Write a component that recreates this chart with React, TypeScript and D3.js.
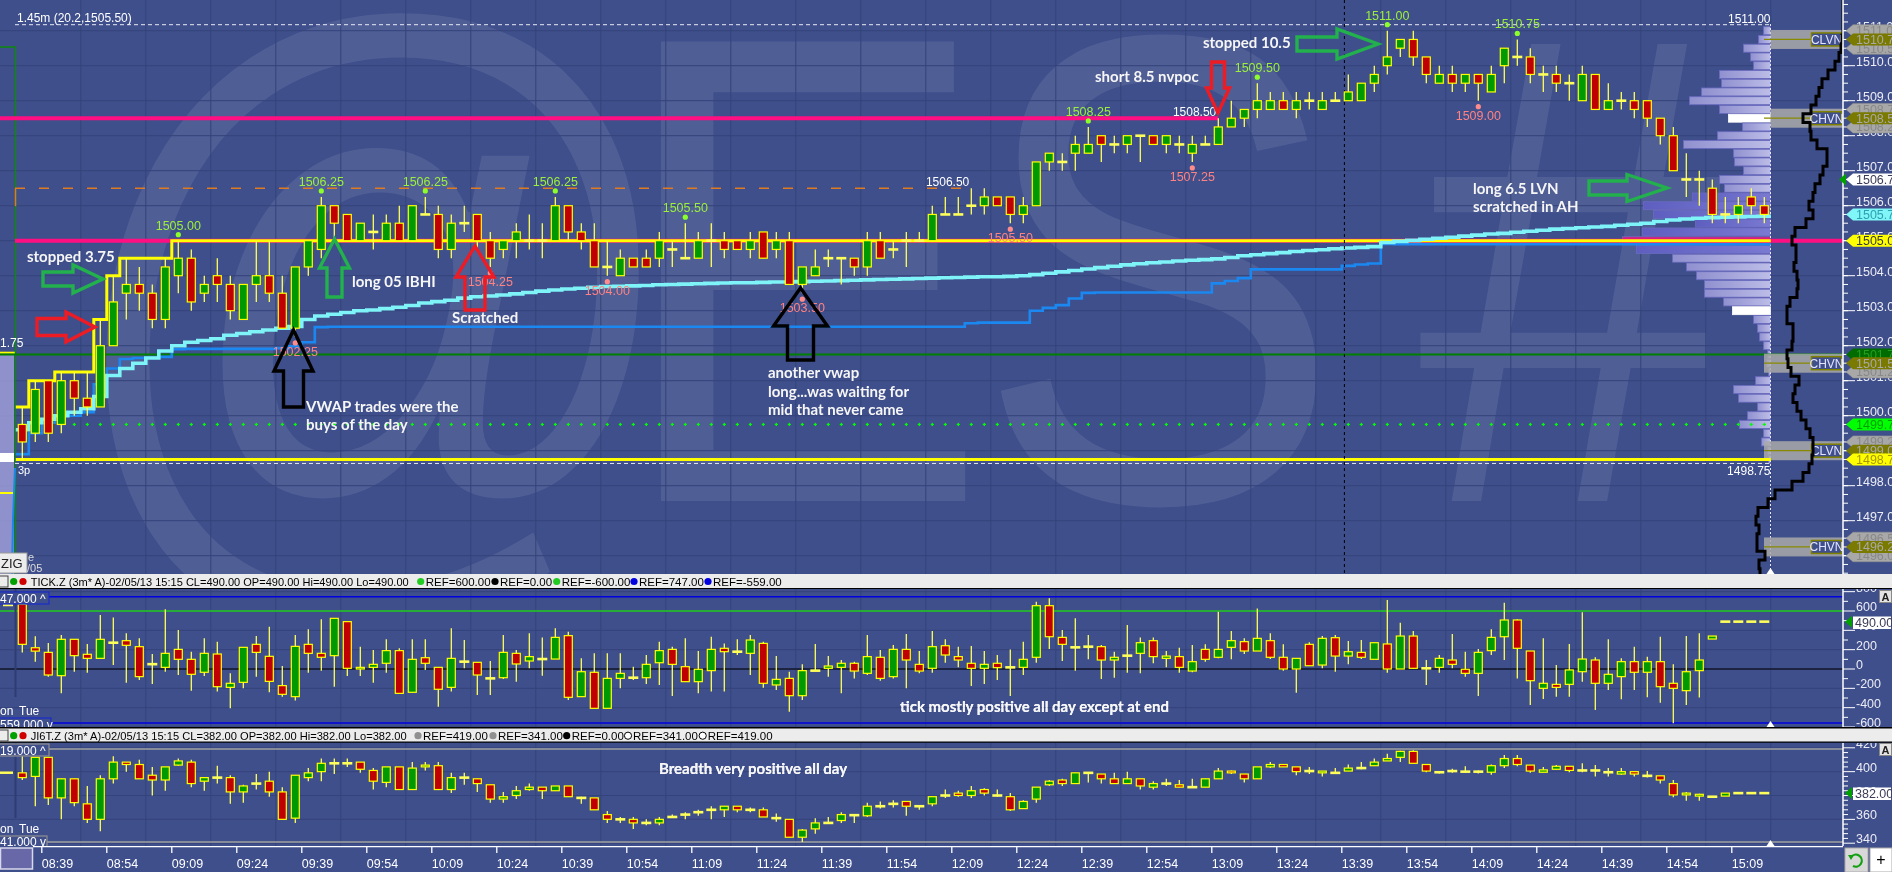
import * as React from 'react';
import * as d3 from 'd3';

type OHLC = [number, number, number, number];

// ---------- data ----------
// ES 3 minute bars [open, high, low, close]
const esCandles: OHLC[] = [
  [1499.75, 1500.25, 1498.75, 1499.25], [1499.5, 1501.0, 1499.25, 1500.75], [1501.0, 1501.0, 1499.25, 1499.5],
  [1499.75, 1501.25, 1499.5, 1501.0], [1501.0, 1501.25, 1500.0, 1500.5], [1500.5, 1501.25, 1500.0, 1500.25],
  [1500.25, 1502.75, 1500.25, 1502.0], [1502.0, 1504.0, 1502.0, 1503.25], [1503.5, 1504.5, 1502.75, 1503.75],
  [1503.75, 1504.25, 1503.0, 1503.5], [1503.5, 1503.75, 1502.5, 1502.75], [1502.75, 1504.5, 1502.5, 1504.25],
  [1504.0, 1505.0, 1503.5, 1504.5], [1504.5, 1504.75, 1503.0, 1503.25], [1503.5, 1504.0, 1503.25, 1503.75],
  [1504.0, 1504.5, 1503.25, 1503.75], [1503.75, 1504.0, 1502.75, 1503.0], [1502.75, 1503.75, 1502.75, 1503.75],
  [1503.75, 1505.0, 1503.25, 1504.0], [1504.0, 1505.0, 1503.25, 1503.5], [1503.5, 1504.0, 1502.5, 1502.5],
  [1502.5, 1504.25, 1502.25, 1504.25], [1504.25, 1505.0, 1504.0, 1505.0], [1504.75, 1506.25, 1504.5, 1506.0],
  [1506.0, 1506.0, 1505.0, 1505.5], [1505.75, 1505.75, 1505.0, 1505.0], [1505.0, 1505.5, 1505.0, 1505.5],
  [1505.25, 1505.75, 1504.75, 1505.25], [1505.0, 1505.75, 1505.0, 1505.5], [1505.5, 1506.0, 1505.0, 1505.0],
  [1505.0, 1506.0, 1505.0, 1506.0], [1505.75, 1506.25, 1505.75, 1505.75], [1505.75, 1506.0, 1504.5, 1504.75],
  [1504.75, 1505.75, 1504.5, 1505.5], [1505.5, 1506.0, 1505.25, 1505.5], [1505.75, 1505.75, 1504.75, 1505.0],
  [1505.0, 1505.25, 1504.25, 1504.5], [1504.75, 1505.0, 1504.5, 1505.0], [1505.0, 1505.5, 1504.5, 1505.25],
  [1505.0, 1505.75, 1504.75, 1505.0], [1505.0, 1505.5, 1504.5, 1505.0], [1505.0, 1506.25, 1505.0, 1506.0],
  [1506.0, 1506.0, 1505.0, 1505.25], [1505.25, 1505.5, 1504.75, 1505.0], [1505.0, 1505.5, 1504.25, 1504.25],
  [1504.25, 1505.0, 1504.0, 1504.25], [1504.0, 1504.75, 1504.0, 1504.5], [1504.5, 1504.5, 1504.25, 1504.25],
  [1504.5, 1504.75, 1504.25, 1504.25], [1504.5, 1505.25, 1504.25, 1505.0], [1504.75, 1505.0, 1504.25, 1504.75],
  [1504.5, 1505.5, 1504.5, 1504.5], [1504.5, 1505.25, 1504.5, 1505.0], [1505.0, 1505.5, 1504.25, 1505.0],
  [1505.0, 1505.25, 1504.5, 1504.75], [1505.0, 1505.0, 1504.75, 1504.75], [1504.75, 1505.25, 1504.5, 1505.0],
  [1505.25, 1505.25, 1504.5, 1504.5], [1504.75, 1505.25, 1504.5, 1505.0], [1505.0, 1505.25, 1503.75, 1503.75],
  [1503.75, 1504.25, 1503.5, 1504.25], [1504.0, 1504.75, 1504.0, 1504.25], [1504.5, 1504.75, 1504.25, 1504.5],
  [1504.5, 1504.5, 1503.75, 1504.5], [1504.5, 1504.5, 1504.0, 1504.25], [1504.25, 1505.25, 1504.0, 1505.0],
  [1505.0, 1505.25, 1504.5, 1504.5], [1504.75, 1505.0, 1504.5, 1504.75], [1505.0, 1505.25, 1504.25, 1505.0],
  [1505.0, 1505.25, 1505.0, 1505.0], [1505.0, 1506.0, 1505.0, 1505.75], [1505.75, 1506.25, 1505.75, 1505.75],
  [1505.75, 1506.25, 1505.75, 1505.75], [1506.0, 1506.5, 1505.75, 1506.0], [1506.0, 1506.5, 1505.75, 1506.25],
  [1506.25, 1506.25, 1506.0, 1506.0], [1506.25, 1506.25, 1505.5, 1505.75], [1505.75, 1506.25, 1505.5, 1506.0],
  [1506.0, 1507.25, 1506.0, 1507.25], [1507.25, 1507.5, 1507.0, 1507.5], [1507.25, 1507.5, 1507.0, 1507.25],
  [1507.5, 1508.0, 1507.0, 1507.75], [1507.5, 1508.25, 1507.5, 1507.75], [1508.0, 1508.0, 1507.25, 1507.75],
  [1507.75, 1508.0, 1507.5, 1507.75], [1507.75, 1508.0, 1507.5, 1508.0], [1508.0, 1508.0, 1507.25, 1508.0],
  [1508.0, 1508.0, 1507.75, 1507.75], [1507.75, 1508.0, 1507.5, 1508.0], [1507.75, 1508.0, 1507.5, 1507.75],
  [1507.5, 1508.0, 1507.25, 1507.75], [1507.75, 1508.0, 1507.75, 1507.75], [1507.75, 1508.5, 1507.75, 1508.25],
  [1508.25, 1509.0, 1508.25, 1508.5], [1508.5, 1508.75, 1508.25, 1508.75], [1508.75, 1509.5, 1508.5, 1509.0],
  [1508.75, 1509.25, 1508.75, 1509.0], [1509.0, 1509.25, 1508.75, 1508.75], [1508.75, 1509.25, 1508.5, 1509.0],
  [1509.0, 1509.25, 1508.75, 1509.0], [1508.75, 1509.25, 1508.75, 1509.0], [1509.0, 1509.25, 1509.0, 1509.0],
  [1509.0, 1509.75, 1509.0, 1509.25], [1509.0, 1509.5, 1509.0, 1509.5], [1509.5, 1510.0, 1509.25, 1509.75],
  [1510.0, 1511.0, 1509.75, 1510.25], [1510.5, 1510.75, 1510.25, 1510.75], [1510.75, 1511.0, 1510.0, 1510.25],
  [1510.25, 1510.25, 1509.5, 1509.75], [1509.5, 1510.0, 1509.5, 1509.75], [1509.75, 1510.0, 1509.25, 1509.5],
  [1509.5, 1509.75, 1509.25, 1509.75], [1509.75, 1509.75, 1509.0, 1509.5], [1509.25, 1510.0, 1509.25, 1509.75],
  [1510.0, 1510.5, 1509.5, 1510.5], [1510.25, 1510.75, 1510.0, 1510.25], [1510.25, 1510.5, 1509.5, 1509.75],
  [1509.75, 1510.0, 1509.25, 1509.75], [1509.75, 1510.0, 1509.25, 1509.5], [1509.5, 1509.75, 1509.0, 1509.5],
  [1509.0, 1510.0, 1509.0, 1509.75], [1509.75, 1509.75, 1508.75, 1508.75], [1508.75, 1509.5, 1508.75, 1509.0],
  [1509.0, 1509.25, 1508.75, 1509.0], [1509.0, 1509.25, 1508.5, 1508.75], [1509.0, 1509.0, 1508.25, 1508.5],
  [1508.5, 1508.5, 1507.75, 1508.0], [1508.0, 1508.25, 1507.0, 1507.0], [1506.75, 1507.5, 1506.25, 1506.75],
  [1506.75, 1507.0, 1506.0, 1506.75], [1506.5, 1506.75, 1505.5, 1505.75], [1505.75, 1506.25, 1505.5, 1505.75],
  [1505.75, 1506.25, 1505.5, 1506.0], [1506.25, 1506.5, 1505.75, 1506.0], [1506.0, 1506.25, 1505.5, 1505.75],
];

// session VWAP (cyan) and lower band (blue), one value per bar
const vwap: number[] = [
  1499.6, 1499.8, 1499.9, 1500.0, 1500.1, 1500.2, 1500.55, 1501.15, 1501.35, 1501.5,
  1501.65, 1501.85, 1502.0, 1502.1, 1502.15, 1502.2, 1502.3, 1502.35, 1502.4, 1502.45,
  1502.5, 1502.55, 1502.75, 1502.85, 1502.9, 1502.95, 1503.0, 1503.02, 1503.06, 1503.1,
  1503.15, 1503.22, 1503.26, 1503.3, 1503.36, 1503.4, 1503.42, 1503.45, 1503.48, 1503.52,
  1503.56, 1503.59, 1503.62, 1503.64, 1503.67, 1503.69, 1503.7, 1503.71, 1503.72, 1503.74,
  1503.75, 1503.76, 1503.77, 1503.78, 1503.79, 1503.8, 1503.8, 1503.81, 1503.82, 1503.82,
  1503.83, 1503.84, 1503.85, 1503.86, 1503.87, 1503.88, 1503.89, 1503.9, 1503.91, 1503.92,
  1503.93, 1503.94, 1503.95, 1503.96, 1503.97, 1503.97, 1503.98, 1504.0, 1504.03, 1504.07,
  1504.11, 1504.15, 1504.19, 1504.23, 1504.27, 1504.31, 1504.34, 1504.37, 1504.39, 1504.42,
  1504.44, 1504.46, 1504.48, 1504.52, 1504.57, 1504.6, 1504.63, 1504.66, 1504.69, 1504.72,
  1504.74, 1504.77, 1504.79, 1504.81, 1504.83, 1504.95, 1504.98, 1505.01, 1505.04, 1505.07,
  1505.1, 1505.13, 1505.16, 1505.19, 1505.21, 1505.24, 1505.27, 1505.3, 1505.33, 1505.35,
  1505.37, 1505.39, 1505.41, 1505.44, 1505.47, 1505.5, 1505.55, 1505.59, 1505.62, 1505.64,
  1505.66, 1505.67, 1505.68, 1505.69, 1505.7,
];
const vwapLow: number[] = [
  1498.9, 1499.5, 1499.8, 1500.0, 1500.0, 1500.1, 1500.9, 1501.35, 1501.62, 1501.65,
  1501.66, 1501.68, 1501.9, 1501.91, 1501.91, 1501.91, 1501.91, 1501.91, 1501.91, 1501.91,
  1501.93, 1501.98, 1502.1, 1502.53, 1502.54, 1502.54, 1502.54, 1502.54, 1502.54, 1502.54,
  1502.54, 1502.54, 1502.54, 1502.54, 1502.54, 1502.54, 1502.54, 1502.54, 1502.54, 1502.54,
  1502.54, 1502.54, 1502.54, 1502.54, 1502.54, 1502.54, 1502.54, 1502.54, 1502.54, 1502.54,
  1502.54, 1502.54, 1502.54, 1502.54, 1502.54, 1502.54, 1502.54, 1502.54, 1502.54, 1502.54,
  1502.54, 1502.54, 1502.54, 1502.54, 1502.54, 1502.54, 1502.54, 1502.54, 1502.54, 1502.54,
  1502.54, 1502.54, 1502.54, 1502.64, 1502.66, 1502.66, 1502.66, 1502.66, 1503.0, 1503.08,
  1503.16, 1503.35, 1503.51, 1503.52, 1503.52, 1503.52, 1503.52, 1503.52, 1503.52, 1503.52,
  1503.52, 1503.52, 1503.78, 1503.85, 1503.93, 1504.18, 1504.18, 1504.18, 1504.18, 1504.18,
  1504.18, 1504.18, 1504.28, 1504.32, 1504.35, 1504.91, 1504.9, 1504.9, 1504.9, 1504.9,
  1504.9, 1504.9, 1504.9, 1504.9, 1504.9, 1504.9, 1504.9, 1504.9, 1504.9, 1504.9,
  1504.9, 1504.9, 1504.9, 1504.9, 1504.9, 1504.9, 1504.9, 1504.9, 1504.9, 1504.9,
  1504.9, 1504.9, 1504.9, 1504.9, 1504.9,
];

// NYSE TICK, 3 minute bars
const tickCandles: OHLC[] = [
  [670, 690, 170, 255], [220, 340, 75, 185], [172, 270, -80, -62], [-69, 352, -252, 307], [307, 307, -28, 138],
  [152, 259, -38, 110], [110, 558, 110, 307], [272, 534, 41, 272], [293, 369, -141, 245], [231, 317, -114, -79],
  [50, 155, -155, 50], [17, 617, -28, 162], [203, 403, -62, 100], [100, 179, -224, -55], [-34, 317, -72, 162],
  [155, 283, -234, -183], [-190, -45, -407, -148], [-138, 224, -200, 224], [255, 341, -79, 172], [131, 438, -241, -128],
  [-172, 31, -286, -262], [-286, 352, -327, 234], [255, 410, -38, 162], [162, 514, -17, 121], [138, 524, -183, 524],
  [490, 490, -72, 7], [0, 231, -72, 17], [17, 196, -141, 48], [59, 307, -38, 190], [190, 214, -252, -252],
  [-241, 307, -241, 100], [117, 307, -10, 59], [17, 17, -390, -210], [-190, 421, -234, 110], [76, 300, 7, 76],
  [69, 69, -269, -62], [-97, 83, -269, -97], [-90, 352, -103, 172], [162, 196, -131, 52], [83, 369, 7, 128],
  [103, 327, -69, 103], [103, 421, 103, 327], [345, 386, -321, -293], [-286, 110, -286, -28], [-34, 162, -407, -407],
  [-407, 162, -407, -97], [-97, 162, -200, -45], [-90, 24, -114, -90], [-90, 145, -155, 48], [65, 283, -165, 190],
  [203, 231, -279, 48], [24, 317, -131, -131], [-131, 186, -252, -3], [-17, 334, -234, 203], [214, 265, -234, 179],
  [179, 307, 145, 179], [162, 352, -62, 300], [265, 283, -193, -148], [-165, 134, -217, -107], [-97, -28, -441, -276],
  [-276, 48, -321, -17], [-17, 259, -17, -17], [7, 134, -79, 31], [17, 93, -252, 59], [59, 76, -97, -21],
  [-45, 352, -62, 128], [121, 196, -121, -97], [-79, 248, -97, 203], [203, 362, -200, 93], [48, 186, -45, -21],
  [7, 393, -38, 231], [241, 307, 65, 145], [128, 231, 17, 93], [59, 238, -176, 7], [7, 186, -155, 48],
  [59, 145, -114, 14], [17, 203, -279, 17], [17, 283, -62, 100], [121, 696, 65, 655], [655, 731, 207, 334],
  [327, 403, 83, 255], [224, 524, -17, 224], [231, 352, 100, 231], [231, 248, -103, 93], [93, 179, -90, 121],
  [138, 455, -38, 138], [162, 327, -45, 272], [293, 327, 59, 128], [110, 186, 17, 134], [128, 221, -38, 17],
  [-21, 248, -34, 76], [203, 255, 76, 100], [121, 593, 110, 203], [224, 393, 100, 293], [283, 317, 155, 186],
  [186, 627, 186, 317], [293, 369, 103, 121], [121, 255, -17, 0], [0, 110, -245, 110], [255, 276, 34, 34],
  [41, 341, 7, 317], [324, 352, -28, 134], [134, 290, 48, 179], [172, 300, 103, 121], [100, 272, 100, 272],
  [259, 713, -38, 0], [0, 479, 0, 341], [341, 393, 0, 7], [7, 93, -165, 7], [17, 145, -38, 110],
  [93, 362, 7, 48], [-3, 179, -79, -45], [-45, 207, -279, 172], [190, 410, 145, 327], [334, 686, 93, 507],
  [507, 514, -97, 214], [186, 186, -372, -121], [-200, 317, -310, -148], [-159, 41, -286, -190], [-159, 259, -286, -10],
  [-28, 586, -131, 103], [93, 121, -424, -148], [-148, 307, -217, -55], [-79, 110, -314, 76], [76, 231, -217, -34],
  [-34, 128, -293, 76], [76, 334, -348, -183], [-148, 48, -562, -200], [-224, 341, -372, -28], [-17, 369, -296, 93],
  [310, 341, 310, 341], [490, 490, 490, 490], [490, 490, 490, 490], [490, 490, 490, 490], [490, 490, 490, 490],
];

// NYSE breadth (JI6T), 3 minute bars
const breadthCandles: OHLC[] = [
  [399, 413, 393, 395], [396, 412, 371, 412], [412, 412, 372, 378], [378, 394, 360, 394], [394, 394, 371, 374],
  [373, 388, 357, 360], [360, 397, 350, 394], [394, 413, 390, 408], [408, 408, 400, 406], [406, 410, 394, 394],
  [397, 404, 380, 393], [393, 404, 384, 404], [405.5, 411, 405, 409], [408, 410, 387, 390], [392, 395, 384, 395],
  [395, 405, 390, 395], [395, 397, 373, 383], [383, 389, 374, 388], [390, 398, 385, 390], [392, 400, 379, 383],
  [383, 387, 360, 360], [361, 397, 357, 397], [395, 403, 392, 399], [400, 411, 392, 407], [407, 411, 398, 407],
  [407, 411, 404, 407], [408, 408, 399, 402], [401, 403, 385, 392], [391, 404, 387, 404], [404, 404, 385, 385],
  [385, 408, 385, 403], [404, 408, 401, 405.5], [405, 408, 385, 385], [385, 399, 382, 395], [395, 399, 389, 395],
  [394, 394, 383, 390], [389, 389, 374, 377], [377, 383, 374, 379], [380, 388, 377, 384], [385, 390, 384, 387],
  [387, 387, 377, 384], [384, 388, 384, 388], [388, 388, 379, 379], [378, 379, 373, 378], [378, 378, 368, 368],
  [364, 367, 357, 360], [360, 362, 357, 360], [360, 362, 352, 357], [357, 360, 355, 357], [357, 362, 355, 360],
  [362, 364, 362, 362], [364, 366, 360, 364], [366, 368, 363, 366], [368, 371, 360, 368], [368, 371, 362, 371],
  [371, 371, 366, 368], [368, 370, 366, 368], [368, 370, 362, 362], [361, 365, 358, 361], [360, 360, 345, 345],
  [345, 352, 341, 351], [352, 361, 348, 357], [357, 362, 356, 357], [359, 366, 357, 364], [364, 364, 357, 363],
  [363, 374, 362, 371], [371, 375, 369, 371], [373, 376, 370, 373], [375, 375, 363, 371], [371, 372, 368, 371],
  [373, 379, 371, 379], [380, 385, 378, 380], [382, 384, 379, 380], [380, 388, 378, 384], [385, 386, 380, 382],
  [380, 385, 379, 380], [379, 382, 367, 368], [369, 376, 369, 375], [377, 387, 374, 387], [389, 393, 388, 392],
  [393, 394, 388, 390], [390, 399, 390, 399], [399, 399, 391, 399], [398, 398, 390, 394], [394, 399, 390, 390],
  [390, 400, 390, 394], [394, 394, 385, 388], [387, 392, 385, 390], [390, 394, 388, 390], [389, 393, 387, 387],
  [387, 394, 387, 387], [387, 394, 387, 394], [394, 403, 394, 400.5], [400.5, 401, 398, 399], [398, 398, 391, 394],
  [394, 404, 394, 404], [404, 408, 403, 406], [406, 406, 404, 404], [404, 404, 397, 400], [400.5, 404, 398, 400.5],
  [399, 400.5, 396, 400.5], [399, 403, 398, 399], [400.5, 406, 400.5, 403], [403, 408, 402, 403], [405, 411, 405, 408],
  [409, 415, 409, 411], [412, 417.5, 408, 417], [417, 418, 407, 407], [406, 406, 399.5, 400.5], [399.5, 400.5, 398.5, 399.5],
  [400.5, 402.5, 399, 400.5], [400, 404.5, 399, 400], [400, 401, 398.5, 400], [399.5, 406, 397.5, 405], [405, 414, 403, 411],
  [411, 414, 404.5, 406], [405.5, 405.5, 399, 400.5], [399.5, 404, 399.5, 401.5], [402, 405.5, 401.5, 404.5], [404.5, 404.5, 399.5, 401],
  [401, 407, 399.5, 401], [401, 405.5, 396, 401], [399.5, 403, 396, 399.5], [398, 403, 397.5, 400], [400, 400, 396, 398],
  [396.5, 400.5, 395, 396.5], [396.5, 396.5, 390, 393], [390, 393, 378.5, 380.5], [380.5, 383, 375.5, 382], [379.5, 381.5, 375.5, 381],
  [379, 379, 378.5, 379], [379.5, 382, 379.5, 382], [382, 382, 382, 382], [382, 382, 382, 382], [382, 382, 382, 382],
];

// volume profile of the session (right edge)
const profilePrice: number[] = [
  1511.0, 1510.75, 1510.5, 1510.25, 1510.0, 1509.75, 1509.5, 1509.25, 1509.0, 1508.75,
  1508.5, 1508.25, 1508.0, 1507.75, 1507.5, 1507.25, 1507.0, 1506.75, 1506.5, 1506.25,
  1506.0, 1505.75, 1505.5, 1505.25, 1505.0, 1504.75, 1504.5, 1504.25, 1504.0, 1503.75,
  1503.5, 1503.25, 1503.0, 1502.75, 1502.5, 1502.25, 1502.0, 1501.75, 1501.5, 1501.25,
  1501.0, 1500.75, 1500.5, 1500.25, 1500.0, 1499.75, 1499.5, 1499.25, 1499.0, 1498.75,
];
const profileVolume: number[] = [
  3.5, 6, 13.5, 10, 8.5, 25.5, 24.5, 34.5, 40.5, 25.5,
  21, 14, 26.5, 43.5, 18.5, 18, 13.5, 25.5, 23, 39,
  63.5, 58.5, 37.5, 64, 74, 67, 49, 42, 37, 33,
  33, 23.5, 19, 8.5, 6.5, 5.5, 3.5, 1.5, 2, 1,
  7.5, 18.5, 16, 6.5, 11.5, 15.5, 3.5, 4.5, 1.5, 1,
];
const profileHighlight: number[] = [1508.5, 1503.0];
const profileLate: number[] = [1506.25, 1506.0, 1505.75, 1505.5, 1505.25, 1504.75];

// composite profile outline (black line at far right)
const compositePrice: number[] = [
  1511.75, 1511.5, 1511.25, 1511.0, 1510.75, 1510.5, 1510.25, 1510.0, 1509.75, 1509.5, 1509.25,
  1509.0, 1508.75, 1508.5, 1508.25, 1508.0, 1507.75, 1507.5, 1507.25, 1507.0, 1506.75, 1506.5,
  1506.25, 1506.0, 1505.75, 1505.5, 1505.25, 1505.0, 1504.75, 1504.5, 1504.25, 1504.0, 1503.75,
  1503.5, 1503.25, 1503.0, 1502.75, 1502.5, 1502.25, 1502.0, 1501.75, 1501.5, 1501.25, 1501.0,
  1500.75, 1500.5, 1500.25, 1500.0, 1499.75, 1499.5, 1499.25, 1499.0, 1498.75, 1498.5, 1498.25,
  1498.0, 1497.75, 1497.5, 1497.25, 1497.0, 1496.75, 1496.5, 1496.25, 1496.0, 1495.75, 1495.5,
];
const compositeCount: number[] = [
  25.75, 25.75, 25.75, 25.75, 25.5, 25.25, 24.75, 23.75, 22, 20.5, 19.75,
  19, 17.75, 15.75, 17.5, 17.75, 19.25, 21.75, 21.75, 20.75, 20, 18.75,
  18.25, 17.25, 18.25, 16.5, 13.75, 13, 14, 14, 13.5, 14.25, 14.5,
  14.25, 12.5, 11.75, 11.75, 13.25, 13.25, 13, 11.75, 12, 12.75, 14.75,
  13.75, 13.25, 14.25, 15.25, 16.5, 17.5, 18.25, 18.25, 18, 17.25, 15.75,
  13, 8.75, 7, 4.5, 4, 4.75, 4.25, 4.25, 6.25, 4.75, 5,
];

const volumeNodes: { price: number; label: string }[] = [
  { price: 1510.75, label: 'CLVN' },
  { price: 1508.5, label: 'CHVN' },
  { price: 1501.5, label: 'CHVN' },
  { price: 1499.0, label: 'CLVN' },
  { price: 1496.25, label: 'CHVN' },
];

const axisMarkers: [number, string][] = [
  [1511.0, 'gray'], [1510.5, 'gray'], [1510.75, 'olive'],
  [1508.75, 'gray'], [1508.25, 'gray'], [1508.5, 'olive'],
  [1506.75, 'last'], [1505.75, 'vwap'], [1505.0, 'ibh'],
  [1501.25, 'gray'], [1501.75, 'green'], [1501.5, 'olive'],
  [1499.75, 'lime'],
  [1499.25, 'gray'], [1499.0, 'olive'], [1498.75, 'ibl'],
  [1496.5, 'gray'], [1496.0, 'gray'], [1496.25, 'olive'],
];

const swingHighBars: number[] = [12, 23, 31, 41, 51, 82, 95, 105, 115];
const swingLowBars: number[] = [21, 36, 45, 60, 76, 90, 112];

const timeTicks: string[] = [
  '08:39', '08:54', '09:09', '09:24', '09:39', '09:54', '10:09', '10:24', '10:39', '10:54',
  '11:09', '11:24', '11:39', '11:54', '12:09', '12:24', '12:39', '12:54', '13:09', '13:24',
  '13:39', '13:54', '14:09', '14:24', '14:39', '14:54', '15:09',
];

const tickRefs: [number, string][] = [[747, '#0000e0'], [600, '#22cc22'], [0, '#000000'], [-559, '#0000e0']];
const breadthRefs: [number, string][] = [[419, '#a0a0a0'], [341, '#a0a0a0']];

// ---------- layout / scales ----------
const W = 1892;
const H = 872;
const BG = '#3f4f8b';
const GRID = '#34437b';
const UP = '#009a00';
const DOWN = '#c00000';
const WICK = '#ffff5a';
const UI = "'Liberation Sans Narrow', 'Liberation Sans', Arial, sans-serif";
const NOTE = "Lato, 'Open Sans', sans-serif";
const AXIS_X = 1843;
const PROFILE_X = 1770.5;

const day = (h: number, m: number, s = 0) => new Date(2013, 1, 5, h, m, s);
const sessionStart = day(8, 33);
const x = d3.scaleTime().domain([sessionStart, day(15, 18)]).range([15.8, 1770.8]);
const barTime = (i: number, f = 0.5) => new Date(+sessionStart + (i + f) * 180000);
const barX = (i: number) => x(barTime(i));
const edgeX = (i: number) => x(barTime(i, 0));
const parseHM = (s: string) => { const [h, m] = s.split(':').map(Number); return day(h, m); };

const MAIN = { top: 0, bottom: 574 };
const TICKP = { top: 589, bottom: 727 };
const BRP = { top: 743, bottom: 846 };

const yPrice = d3.scaleLinear().domain([1500, 1510]).range([415.7, 65.7]);
const yTick = d3.scaleLinear().domain([0, 600]).range([669, 611]);
const yBreadth = d3.scaleLinear().domain([341, 419]).range([842, 749]);
const xVol = d3.scaleLinear().domain([0, 75]).range([0, 150]);
const xComposite = d3.scaleLinear().domain([0, 26]).range([1740, 1844]);

const fmt = d3.format('.2f');

function Candles({ data, y }: { data: OHLC[]; y: (v: number) => number }) {
  return (
    <g>
      {data.map(([o, h, l, c], i) => {
        const cx = barX(i);
        const yo = y(o), yc = y(c);
        const flat = Math.abs(yo - yc) < 1.6;
        return (
          <g key={i}>
            {h !== l && <line x1={cx} x2={cx} y1={y(h)} y2={y(l)} stroke={WICK} strokeWidth={1.3} />}
            {flat ? (
              <line x1={cx - 5} x2={cx + 5} y1={(yo + yc) / 2} y2={(yo + yc) / 2} stroke={WICK} strokeWidth={2.6} />
            ) : (
              <rect x={cx - 4} y={Math.min(yo, yc)} width={8} height={Math.abs(yo - yc)}
                fill={c > o ? UP : DOWN} stroke="#ffff00" strokeWidth={1.2} />
            )}
          </g>
        );
      })}
    </g>
  );
}

// hollow block arrow from tail to tip
function arrowPath(x1: number, y1: number, x2: number, y2: number, head: number, hw: number, sw: number) {
  const len = Math.hypot(x2 - x1, y2 - y1);
  const ux = (x2 - x1) / len, uy = (y2 - y1) / len;
  const px = -uy, py = ux;
  const bx = x2 - ux * head, by = y2 - uy * head;
  const pts = [
    [x1 + px * sw, y1 + py * sw], [bx + px * sw, by + py * sw], [bx + px * hw, by + py * hw], [x2, y2],
    [bx - px * hw, by - py * hw], [bx - px * sw, by - py * sw], [x1 - px * sw, y1 - py * sw],
  ];
  return 'M' + pts.map((p) => p.join(',')).join('L') + 'Z';
}

const arrows: { d: string; color: string }[] = [
  { d: arrowPath(43, 279, 103, 279, 30, 14, 7), color: '#22b14c' },
  { d: arrowPath(37, 327, 95, 327, 29, 15, 8.5), color: '#ed1c24' },
  { d: arrowPath(334.5, 297, 334.5, 239, 29, 15, 7.5), color: '#22b14c' },
  { d: arrowPath(475, 310, 475, 246, 31, 19, 10), color: '#ed1c24' },
  { d: arrowPath(293.5, 407, 293.5, 330, 41, 19.5, 10), color: '#000000' },
  { d: arrowPath(800.5, 360, 800.5, 288, 38, 27, 13), color: '#000000' },
  { d: arrowPath(1218, 62, 1218, 113, 25, 11.5, 6.5), color: '#ed1c24' },
  { d: arrowPath(1297, 44, 1378, 44, 41, 15, 7), color: '#22b14c' },
  { d: arrowPath(1589, 188, 1667, 188, 40, 13.5, 7), color: '#22b14c' },
];

const notes: [number, number, string][] = [
  [27, 262, 'stopped 3.75'],
  [352, 287, 'long 05 IBHI'],
  [452, 323, 'Scratched'],
  [306, 412, 'VWAP trades were the'],
  [306, 430, 'buys of the day'],
  [768, 378, 'another vwap'],
  [768, 397, 'long...was waiting for'],
  [768, 415, 'mid that never came'],
  [1095, 82, 'short 8.5 nvpoc'],
  [1203, 48, 'stopped 10.5'],
  [1473, 194, 'long 6.5 LVN'],
  [1473, 212, 'scratched in AH'],
  [900, 712, 'tick mostly positive all day except at end'],
  [659, 774, 'Breadth very positive all day'],
];

const markerStyle: Record<string, [string, string]> = {
  gray: ['#a8a8a8', '#888888'],
  olive: ['#7a7a00', '#a9a9a9'],
  last: ['#ffffff', '#3c3c58'],
  vwap: ['#80f6f8', '#2c9fb0'],
  ibh: ['#ffff00', '#3a3a3a'],
  ibl: ['#ffff00', '#a89800'],
  green: ['#006c00', '#22a022'],
  lime: ['#00ff00', '#00a000'],
};

function markerPath(y: number, left = 1846) {
  return `M${left},${y}L${left + 7},${y - 6}L${W},${y - 6}L${W},${y + 6}L${left + 7},${y + 6}Z`;
}

export default function App(): JSX.Element {
  const highs = esCandles.map((d) => d[1]);
  const lows = esCandles.map((d) => d[2]);
  // initial balance = first hour (20 bars)
  const ibBars = 20;
  const ibHighRun = esCandles.map((_, i) => d3.max(highs.slice(0, Math.min(i, ibBars - 1) + 1)) as number);
  const ibLowRun = esCandles.map((_, i) => d3.min(lows.slice(0, Math.min(i, ibBars - 1) + 1)) as number);
  const dayHigh = d3.max(highs) as number;
  const dayLow = d3.min(lows) as number;

  const stepLine = (vals: number[]) =>
    d3.line<number>()
      .x((_, i) => edgeX(i))
      .y((v) => yPrice(v))
      .curve(d3.curveStepAfter)([...vals, vals[vals.length - 1]]) as string;

  const half = (yPrice(1500) - yPrice(1500.25)) / 2;
  const compositePts: [number, number][] = [];
  compositePrice.forEach((p, i) => {
    const cx = xComposite(compositeCount[i]);
    compositePts.push([cx, i === 0 ? 0 : yPrice(p) - half], [cx, yPrice(p) + half]);
  });
  const compositeLine = d3.line()(compositePts) as string;

  const gridTimes: Date[] = [];
  for (let t = +day(8, 48); x(new Date(t)) < 1780; t += 15 * 60000) gridTimes.push(new Date(t));

  const priceMinor = d3.range(1495.5, 1512, 0.25);
  const priceMajor = d3.range(1496, 1512, 1);

  const PanelGrid = ({ top, bottom, ys }: { top: number; bottom: number; ys: number[] }) => (
    <g stroke={GRID} strokeWidth={1}>
      {gridTimes.map((t, i) => <line key={'v' + i} x1={x(t)} x2={x(t)} y1={top} y2={bottom} />)}
      {ys.map((y, i) => <line key={'h' + i} x1={0} x2={AXIS_X} y1={y} y2={y} />)}
    </g>
  );

  const headerDots = (items: [number, string, string, boolean?][]) =>
    items.map(([hx, col, txt, hollow], i) => (
      <g key={i}>
        <circle cx={hx} cy={0} r={3.6} fill={hollow ? '#ffffff' : col} stroke={hollow ? '#000' : 'none'} strokeWidth={1} />
        <text x={hx + 5} y={4} fontSize={11.5} fill="#000">{txt}</text>
      </g>
    ));

  return (
    <div style={{ position: 'fixed', left: 0, top: 0, width: W, height: H, background: BG }}>
      <svg width={W} height={H} style={{ display: 'block', fontFamily: UI }}>
        <defs>
          <clipPath id="clipMain"><rect x={0} y={MAIN.top} width={AXIS_X} height={MAIN.bottom - MAIN.top} /></clipPath>
          <clipPath id="clipTick"><rect x={0} y={TICKP.top} width={AXIS_X} height={TICKP.bottom - TICKP.top} /></clipPath>
          <clipPath id="clipBr"><rect x={0} y={BRP.top} width={AXIS_X} height={BRP.bottom - BRP.top} /></clipPath>
          <clipPath id="clipTickAxis"><rect x={AXIS_X} y={TICKP.top} width={W - AXIS_X} height={TICKP.bottom - TICKP.top} /></clipPath>
          <clipPath id="clipBrAxis"><rect x={AXIS_X} y={BRP.top} width={W - AXIS_X} height={BRP.bottom - BRP.top} /></clipPath>
          <linearGradient id="volGrad" x1="0" x2="1" y1="0" y2="0">
            <stop offset="0" stopColor="#9090d0" />
            <stop offset="1" stopColor="#bdbde8" />
          </linearGradient>
          <linearGradient id="volGradDark" x1="0" x2="1" y1="0" y2="0">
            <stop offset="0" stopColor="#5e5ec0" />
            <stop offset="1" stopColor="#7a7ad2" />
          </linearGradient>
        </defs>
        <rect width={W} height={H} fill={BG} />

        {/* ================= main price panel ================= */}
        <g clipPath="url(#clipMain)">
          <g fill="#ffffff" opacity={0.09} fontFamily="'Liberation Sans', Arial, sans-serif">
            <text transform="translate(57,535) scale(0.87,1)" fontSize={720}>@</text>
            <text transform="translate(615,501) scale(0.84,1)" fontSize={668}>E</text>
            <text transform="translate(976,501) scale(0.82,1)" fontSize={668}>S</text>
            <text transform="translate(1418,501) scale(0.82,1)" fontSize={668}>#</text>
          </g>
          <PanelGrid top={MAIN.top} bottom={MAIN.bottom} ys={priceMajor.map(yPrice)} />

          {/* previous session profile remnant at the left edge */}
          <rect x={0} y={355} width={14} height={219} fill="#9c9cd6" opacity={0.85} />
          <rect x={0} y={453} width={14} height={9} fill="#ffffff" />
          <line x1={0} x2={15} y1={352.7} y2={352.7} stroke="#ffff00" strokeWidth={2} />
          <line x1={0} x2={15} y1={493} y2={493} stroke="#ffff00" strokeWidth={2} />
          <line x1={15.5} x2={15.5} y1={47} y2={574} stroke="#0a8a0a" strokeWidth={1.5} />
          <line x1={0} x2={15.5} y1={47} y2={47} stroke="#0a8a0a" strokeWidth={1.5} />
          <path d="M15,468L13,520L12,574" fill="none" stroke="#1c86ee" strokeWidth={2} />

          {/* session volume profile */}
          {profilePrice.map((p, i) => {
            const w = xVol(profileVolume[i]);
            const hi = profileHighlight.includes(p);
            const late = profileLate.includes(p);
            const poc = p === 1505.0;
            return (
              <rect key={p} x={PROFILE_X - w} y={yPrice(p) - half + 0.4} width={w} height={half * 2 - 0.8}
                fill={hi ? '#ffffff' : poc ? '#d0207e' : late ? 'url(#volGradDark)' : 'url(#volGrad)'}
                stroke={hi ? '#ffffff' : '#6a6ac0'} strokeWidth={0.8} />
            );
          })}
          <line x1={PROFILE_X} x2={PROFILE_X} y1={24} y2={574} stroke="#e6e6ff" strokeWidth={1} strokeDasharray="2,2" />

          {/* reference levels */}
          <line x1={0} x2={barX(92)} y1={yPrice(1508.5)} y2={yPrice(1508.5)} stroke="#ff0f82" strokeWidth={4} />
          <line x1={15} x2={AXIS_X} y1={yPrice(1505.0)} y2={yPrice(1505.0)} stroke="#ff0f82" strokeWidth={4} />
          <line x1={0} x2={AXIS_X} y1={yPrice(1501.75)} y2={yPrice(1501.75)} stroke="#008000" strokeWidth={2} />
          <line x1={15} x2={barX(73)} y1={yPrice(1506.5)} y2={yPrice(1506.5)} stroke="#e07a20" strokeWidth={1.4} strokeDasharray="10,14" />
          <line x1={15.5} x2={15.5} y1={yPrice(1506.5)} y2={yPrice(1506.5) + 18} stroke="#e07a20" strokeWidth={1.5} />
          <line x1={15} x2={PROFILE_X} y1={yPrice(dayHigh) - 6} y2={yPrice(dayHigh) - 6} stroke="#e8e8f4" strokeWidth={1} strokeDasharray="4,3" />
          <line x1={15} x2={PROFILE_X} y1={yPrice(dayLow) + 4} y2={yPrice(dayLow) + 4} stroke="#e8e8f4" strokeWidth={1} strokeDasharray="4,3" />
          <g fill="#00ff00">
            {esCandles.map((_, i) => (
              <g key={i}>
                <rect x={barX(i) - 1.6} y={yPrice(1499.75) - 0.6} width={3.2} height={1.2} />
                <rect x={barX(i) - 0.6} y={yPrice(1499.75) - 1.6} width={1.2} height={3.2} />
              </g>
            ))}
          </g>

          {/* volume node bands */}
          {volumeNodes.map((n) => (
            <g key={n.price}>
              <rect x={n.price === 1508.5 || n.price === 1510.75 ? PROFILE_X : 1764} y={yPrice(n.price) - 9.5}
                width={AXIS_X - (n.price === 1508.5 || n.price === 1510.75 ? PROFILE_X : 1764)} height={19}
                fill="#a9a9a9" opacity={0.85} />
              <line x1={1764} x2={1812} y1={yPrice(n.price)} y2={yPrice(n.price)} stroke="#8a8a00" strokeWidth={1.2} />
            </g>
          ))}

          {/* session lines */}
          <path d={stepLine(ibLowRun)} fill="none" stroke="#ffff00" strokeWidth={3} />
          <path d={stepLine(ibHighRun)} fill="none" stroke="#ffff00" strokeWidth={3} />
          <path d={stepLine(vwapLow)} fill="none" stroke="#1a88f0" strokeWidth={2.6} />
          <path d={stepLine(vwap)} fill="none" stroke="#7ff4f8" strokeWidth={3.6} />

          <line x1={x(day(13, 39, 36))} x2={x(day(13, 39, 36))} y1={0} y2={574} stroke="#000" strokeWidth={1} strokeDasharray="3,3" />

          <Candles data={esCandles} y={yPrice} />

          {/* swing labels */}
          {swingHighBars.map((i) => (
            <g key={'h' + i}>
              <circle cx={barX(i)} cy={yPrice(highs[i]) - 6} r={2.6} fill="#8cff2a" />
              <text x={barX(i)} y={yPrice(highs[i]) - 11} textAnchor="middle" fontSize={12.5} fill="#9cf03c">{fmt(highs[i])}</text>
            </g>
          ))}
          {swingLowBars.map((i) => (
            <g key={'l' + i}>
              <circle cx={barX(i)} cy={yPrice(lows[i]) + 6} r={2.6} fill="#ff8c8c" />
              <text x={barX(i)} y={yPrice(lows[i]) + 19} textAnchor="middle" fontSize={12.5} fill="#ff8282">{fmt(lows[i])}</text>
            </g>
          ))}
          <text x={barX(73) - 2} y={yPrice(1506.5) - 2} textAnchor="end" fontSize={12} fill="#ffffff">{fmt(1506.5)}</text>
          <text x={barX(92) - 2} y={yPrice(1508.5) - 2} textAnchor="end" fontSize={12} fill="#ffffff">{fmt(1508.5)}</text>
          <text x={PROFILE_X} y={yPrice(dayHigh) - 8} textAnchor="end" fontSize={12} fill="#ffffff">{fmt(dayHigh)}</text>
          <text x={PROFILE_X} y={yPrice(dayLow) + 16} textAnchor="end" fontSize={12} fill="#ffffff">{fmt(dayLow)}</text>
          <text x={17} y={22} fontSize={12} fill="#ffffff">1.45m (20.2,1505.50)</text>
          <text x={18} y={474} fontSize={11} fill="#ffffff">3p</text>
          <text x={0} y={347} fontSize={12} fill="#ffffff">1.75</text>
          <polygon points={`${PROFILE_X - 4},574 ${PROFILE_X},568 ${PROFILE_X + 4},574`} fill="#ffffff" />

          {/* node labels */}
          {volumeNodes.map((n) => (
            <g key={'lb' + n.price}>
              <rect x={1811.5} y={yPrice(n.price) - 6.5} width={30} height={13} fill={BG} stroke="#808000" strokeWidth={1.5} />
              <text x={1826.5} y={yPrice(n.price) + 4.5} textAnchor="middle" fontSize={12} fill="#e4e4ff">{n.label}</text>
            </g>
          ))}

          <path d={compositeLine} fill="none" stroke="#000000" strokeWidth={3} />

          {/* annotations */}
          {arrows.map((a, i) => <path key={i} d={a.d} fill="none" stroke={a.color} strokeWidth={3.4} strokeLinejoin="miter" />)}
        </g>
        <g fontFamily={NOTE} fontWeight={700} fontSize={15} fill="#f6f6f6">
          {notes.map(([nx, ny, t], i) => <text key={i} x={nx} y={ny}>{t}</text>)}
        </g>
        {/* ZIG box */}
        <rect x={-1} y={553} width={28} height={20} fill="#ececec" stroke="#9a9a9a" />
        <text x={1} y={568} fontSize={13} fill="#202020">ZIG</text>
        <text x={28} y={561} fontSize={11} fill="#dcdcdc">e</text>
        <text x={27} y={572} fontSize={11} fill="#dcdcdc">/05</text>

        {/* main price axis */}
        <line x1={AXIS_X} x2={AXIS_X} y1={0} y2={574} stroke="#ffffff" strokeWidth={1.5} />
        <g stroke="#ffffff" strokeWidth={1}>
          {priceMinor.map((p) => <line key={p} x1={AXIS_X} x2={AXIS_X + 5} y1={yPrice(p)} y2={yPrice(p)} />)}
          {priceMajor.map((p) => <line key={'M' + p} x1={AXIS_X} x2={AXIS_X + 12} y1={yPrice(p)} y2={yPrice(p)} />)}
        </g>
        <g fontSize={12.5} fill="#ececf4">
          {priceMajor.map((p) => <text key={p} x={1856} y={yPrice(p)}>{fmt(p)}</text>)}
        </g>
        {axisMarkers.map(([p, kind]) => (
          <g key={p}>
            <path d={markerPath(yPrice(p))} fill={markerStyle[kind][0]} stroke={kind === 'gray' ? '#909090' : 'none'} strokeWidth={0.6} />
            <text x={1856} y={yPrice(p) + 4.5} fontSize={12.5} fill={markerStyle[kind][1]}>{fmt(p)}</text>
          </g>
        ))}
        <polygon points={`${AXIS_X - 4},${yPrice(1506.75)} ${AXIS_X + 3},${yPrice(1506.75) - 6} ${AXIS_X + 3},${yPrice(1506.75) + 6}`} fill="#00a000" />

        {/* ================= TICK header ================= */}
        <rect x={0} y={574} width={W} height={14} fill="#ececec" />
        <line x1={0} x2={W} y1={588.5} y2={588.5} stroke="#000" strokeWidth={1.2} />
        <rect x={-1} y={576} width={9} height={11} fill="#ececec" stroke="#404040" />
        <g transform="translate(0,581.5)">
          <circle cx={13.7} cy={0} r={3.6} fill="#00a000" />
          <circle cx={23} cy={0} r={3.6} fill="#d00000" />
          <text x={30.7} y={4} fontSize={11.5} fill="#000" textLength={378} lengthAdjust="spacingAndGlyphs">
            TICK.Z (3m* A)-02/05/13 15:15 CL=490.00 OP=490.00 Hi=490.00 Lo=490.00
          </text>
          {headerDots([
            [420.7, '#22cc22', 'REF=600.00'], [495, '#000000', 'REF=0.00'], [556.7, '#22cc22', 'REF=-600.00'],
            [634, '#0000e0', 'REF=747.00'], [708, '#0000e0', 'REF=-559.00'],
          ])}
        </g>

        {/* ================= TICK panel ================= */}
        <g clipPath="url(#clipTick)">
          <PanelGrid top={TICKP.top} bottom={TICKP.bottom} ys={d3.range(-600, 801, 200).map(yTick)} />
          {tickRefs.map(([v, c]) => (
            <line key={v} x1={0} x2={AXIS_X} y1={yTick(v)} y2={yTick(v)} stroke={c} strokeWidth={v === 0 ? 1.2 : 1.4} />
          ))}
          <line x1={15.5} x2={15.5} y1={589} y2={697} stroke="#2e3c70" strokeWidth={2} />
          <line x1={3} x2={13} y1={605} y2={605} stroke={WICK} strokeWidth={2.5} />
          <Candles data={tickCandles} y={yTick} />
          <polygon points={`${PROFILE_X - 4},727 ${PROFILE_X},721 ${PROFILE_X + 4},727`} fill="#ffffff" />
          <rect x={-2} y={592} width={51} height={12} fill={BG} stroke="#1a2ccc" strokeWidth={1.2} />
          <text x={0} y={602.5} fontSize={12} fill="#ffffff">47.000</text>
          <text x={40} y={603} fontSize={12} fill="#ffffff">^</text>
          <text x={0} y={715} fontSize={12} fill="#ffffff">on</text>
          <text x={19} y={715} fontSize={12} fill="#ffffff">Tue</text>
          <rect x={-2} y={718} width={53} height={12} fill={BG} stroke="#1a2ccc" strokeWidth={1.2} />
          <text x={0} y={729} fontSize={12} fill="#ffffff">559.000  v</text>
        </g>
        <text x={900} y={712} fontFamily={NOTE} fontWeight={700} fontSize={15} fill="#f6f6f6">tick mostly positive all day except at end</text>
        <line x1={AXIS_X} x2={AXIS_X} y1={589} y2={727} stroke="#ffffff" strokeWidth={1.5} />
        <g stroke="#ffffff">
          {d3.range(-600, 801, 100).map((v) => (
            <line key={v} x1={AXIS_X} x2={AXIS_X + (v % 200 === 0 ? 12 : 5)} y1={yTick(v)} y2={yTick(v)} />
          ))}
        </g>
        <g fontSize={12.5} fill="#ececf4" clipPath="url(#clipTickAxis)">
          {d3.range(-600, 801, 200).map((v) => (
            <text key={v} x={1856} y={yTick(v)}>{v}</text>
          ))}
        </g>
        <rect x={1853} y={616.5} width={38} height={12.5} fill="#ffffff" />
        <text x={1855} y={627} fontSize={12.5} fill="#3c3c58">490.00</text>
        <polygon points={`${AXIS_X + 2},${yTick(490)} ${AXIS_X + 9},${yTick(490) - 6} ${AXIS_X + 9},${yTick(490) + 6}`} fill="#00a000" />
        <rect x={1879.5} y={590.5} width={12} height={12} fill="#e4e4e4" stroke="#888" />
        <text x={1885.5} y={601} textAnchor="middle" fontSize={11} fontWeight={700} fill="#202020">A</text>

        {/* ================= breadth header ================= */}
        <rect x={0} y={728} width={W} height={14} fill="#ececec" />
        <line x1={0} x2={W} y1={727.8} y2={727.8} stroke="#000" strokeWidth={1.4} />
        <line x1={0} x2={W} y1={742.2} y2={742.2} stroke="#000" strokeWidth={1.2} />
        <rect x={-1} y={730} width={9} height={11} fill="#ececec" stroke="#404040" />
        <g transform="translate(0,735.7)">
          <circle cx={13.7} cy={0} r={3.6} fill="#00a000" />
          <circle cx={23} cy={0} r={3.6} fill="#d00000" />
          <text x={30.7} y={4} fontSize={11.5} fill="#000" textLength={376} lengthAdjust="spacingAndGlyphs">
            JI6T.Z (3m* A)-02/05/13 15:15 CL=382.00 OP=382.00 Hi=382.00 Lo=382.00
          </text>
          {headerDots([
            [418, '#909090', 'REF=419.00'], [493, '#909090', 'REF=341.00'], [566.7, '#000000', 'REF=0.00'],
            [628, '#ffffff', 'REF=341.00', true], [702.7, '#ffffff', 'REF=419.00', true],
          ])}
        </g>

        {/* ================= breadth panel ================= */}
        <g clipPath="url(#clipBr)">
          <PanelGrid top={BRP.top} bottom={BRP.bottom} ys={d3.range(340, 421, 20).map(yBreadth)} />
          {breadthRefs.map(([v, c]) => (
            <line key={v} x1={0} x2={AXIS_X} y1={yBreadth(v)} y2={yBreadth(v)} stroke={c} strokeWidth={1.4} />
          ))}
          <line x1={15.5} x2={15.5} y1={743} y2={818} stroke="#2e3c70" strokeWidth={2} />
          <line x1={0} x2={13} y1={772.7} y2={772.7} stroke={WICK} strokeWidth={2.5} />
          <Candles data={breadthCandles} y={yBreadth} />
          <polygon points={`${PROFILE_X - 4},846 ${PROFILE_X},840 ${PROFILE_X + 4},846`} fill="#ffffff" />
          <rect x={-2} y={744} width={51} height={12} fill={BG} stroke="#909090" strokeWidth={1.2} />
          <text x={0} y={754.5} fontSize={12} fill="#ffffff">19.000</text>
          <text x={40} y={755} fontSize={12} fill="#ffffff">^</text>
          <text x={0} y={833} fontSize={12} fill="#ffffff">on</text>
          <text x={19} y={833} fontSize={12} fill="#ffffff">Tue</text>
          <rect x={-2} y={836} width={49} height={11} fill={BG} stroke="#909090" strokeWidth={1.2} />
          <text x={0} y={846} fontSize={12} fill="#ffffff">41.000  v</text>
        </g>
        <text x={659} y={774} fontFamily={NOTE} fontWeight={700} fontSize={15} fill="#f6f6f6">Breadth very positive all day</text>
        <line x1={AXIS_X} x2={AXIS_X} y1={743} y2={846} stroke="#ffffff" strokeWidth={1.5} />
        <g stroke="#ffffff">
          {d3.range(340, 421, 4).map((v) => (
            <line key={v} x1={AXIS_X} x2={AXIS_X + (v % 20 === 0 ? 12 : 5)} y1={yBreadth(v)} y2={yBreadth(v)} />
          ))}
        </g>
        <g fontSize={12.5} fill="#ececf4" clipPath="url(#clipBrAxis)">
          {d3.range(340, 421, 20).map((v) => (
            <text key={v} x={1856} y={yBreadth(v)}>{v}</text>
          ))}
        </g>
        <rect x={1853} y={787.5} width={38} height={12.5} fill="#ffffff" />
        <text x={1855} y={798} fontSize={12.5} fill="#3c3c58">382.00</text>
        <polygon points={`${AXIS_X + 2},${yBreadth(382)} ${AXIS_X + 9},${yBreadth(382) - 6} ${AXIS_X + 9},${yBreadth(382) + 6}`} fill="#00a000" />
        <rect x={1879.5} y={743.5} width={12} height={12} fill="#e4e4e4" stroke="#888" />
        <text x={1885.5} y={754} textAnchor="middle" fontSize={11} fontWeight={700} fill="#202020">A</text>

        {/* ================= time axis ================= */}
        <line x1={33} x2={AXIS_X} y1={846.7} y2={846.7} stroke="#ffffff" strokeWidth={1.3} />
        <rect x={0.5} y={848} width={32} height={21} fill="#6868a8" stroke="#d8d8ec" strokeWidth={1.5} />
        {timeTicks.map((s) => {
          const tx = x(parseHM(s));
          return (
            <g key={s}>
              <line x1={tx} x2={tx} y1={847} y2={853} stroke="#ffffff" strokeWidth={1.3} />
              <text x={tx} y={868} fontSize={12.5} fill="#ffffff">{s}</text>
            </g>
          );
        })}
        <rect x={1845} y={848} width={23} height={24} fill="#d8d8d8" stroke="#aaa" />
        <path d="M1851,857 A6,6 0 1 1 1853,866" fill="none" stroke="#10a010" strokeWidth={2.2} />
        <polygon points="1848,855 1854,855 1851,860" fill="#10a010" />
        <rect x={1870} y={848} width={22} height={24} fill="#ffffff" stroke="#aaa" />
        <text x={1881} y={865} textAnchor="middle" fontSize={16} fill="#000">+</text>
      </svg>
    </div>
  );
}
